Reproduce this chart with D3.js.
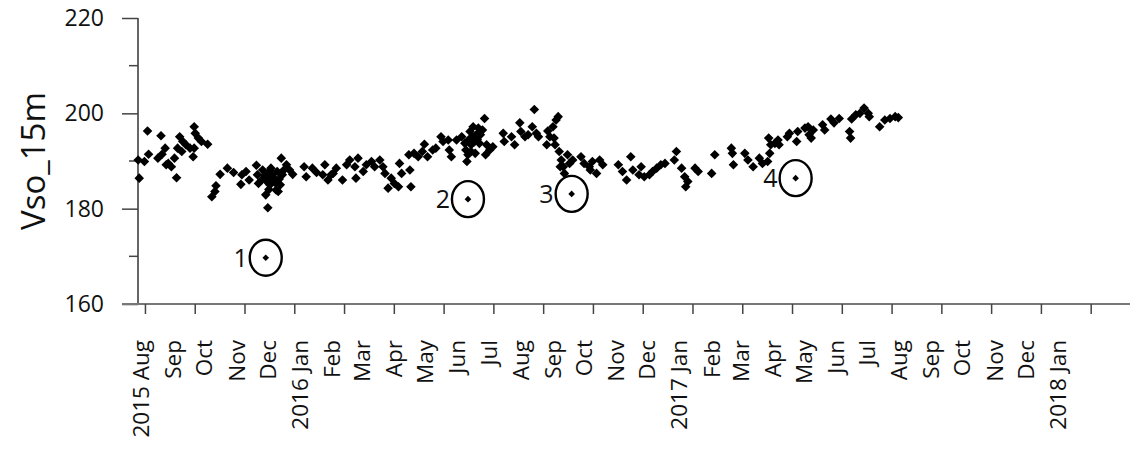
<!DOCTYPE html>
<html>
<head>
<meta charset="utf-8">
<script src="https://cdn.jsdelivr.net/npm/d3@7"></script>
<style>
  body { margin: 0; background: #fff; }
  text { font-family: "Open Sans", sans-serif; fill: #111; }
</style>
</head>
<body>
<div id="chart"></div>
<script>
const obs = [
  ["2015-07-29",190.2],["2015-07-30",186.4],["2015-08-04",189.9],["2015-08-07",196.3],["2015-08-08",191.4],
  ["2015-08-20",195.3],["2015-08-17",190.6],["2015-08-24",192.7],["2015-08-21",191.4],["2015-08-27",189.5],
  ["2015-08-25",189.2],["2015-08-30",188.8],["2015-09-04",186.5],["2015-09-02",190.6],["2015-09-05",192.7],
  ["2015-09-07",195.1],["2015-09-10",194.1],["2015-09-09",192.0],["2015-09-13",193.4],["2015-09-21",197.2],
  ["2015-09-22",195.8],["2015-09-25",194.8],["2015-09-20",190.9],["2015-09-21",192.7],["2015-09-28",194.1],
  ["2015-10-04",193.5],["2015-09-17",192.7],["2015-10-08",182.5],["2015-10-11",183.6],["2015-10-12",184.8],
  ["2015-10-16",187.2],["2015-10-23",188.5],["2015-10-29",187.6],["2015-11-05",185.1],["2015-11-06",187.1],
  ["2015-11-10",187.8],["2015-11-13",186.0],["2015-11-20",189.1],["2015-11-21",187.1],["2015-11-22",185.3],
  ["2015-11-26",188.1],["2015-11-29",182.9],["2015-12-01",180.2],["2015-12-02",186.7],["2015-12-03",185.0],
  ["2015-12-04",188.5],["2015-12-07",186.4],["2015-12-09",183.9],["2015-12-11",183.6],["2015-12-06",187.4],
  ["2015-12-14",190.6],["2015-12-15",187.1],["2015-12-19",189.2],["2015-12-22",188.1],["2015-12-25",187.2],
  ["2015-12-13",185.0],["2015-11-25",186.0],["2015-11-30",185.7],["2015-12-02",184.0],["2015-12-05",186.0],
  ["2015-12-08",185.5],["2015-12-10",187.8],["2015-12-12",186.2],["2015-11-28",187.0],["2015-12-16",188.0],
  ["2015-12-03",187.8],
  ["2016-01-05",188.8],["2016-01-07",186.7],["2016-01-13",188.5],["2016-01-17",187.6],["2016-01-25",189.2],
  ["2016-01-23",187.1],["2016-01-28",186.0],["2016-01-31",187.1],["2016-02-02",187.4],["2016-02-05",188.5],
  ["2016-02-11",186.0],["2016-02-15",189.2],["2016-02-18",190.2],["2016-02-23",188.8],["2016-02-26",190.6],
  ["2016-02-24",186.4],["2016-03-02",187.8],["2016-03-05",189.2],["2016-03-10",189.9],["2016-03-13",188.8],
  ["2016-03-18",190.2],["2016-03-21",188.8],["2016-03-23",187.4],["2016-03-26",184.3],["2016-03-29",186.4],
  ["2016-04-01",185.3],["2016-04-06",189.5],["2016-04-05",184.6],["2016-04-08",187.4],["2016-04-16",188.1],
  ["2016-04-17",184.6],["2016-04-15",191.3],["2016-04-20",191.6],["2016-04-24",190.9],["2016-04-30",193.5],
  ["2016-04-28",192.0],["2016-05-03",190.9],["2016-05-08",192.3],["2016-05-11",192.7],["2016-05-16",195.1],
  ["2016-05-18",194.1],["2016-05-23",194.4],["2016-05-24",192.3],["2016-05-26",190.9],["2016-05-31",194.4],
  ["2016-06-05",195.1],["2016-06-08",193.7],["2016-06-09",192.3],["2016-06-10",189.9],["2016-06-11",191.3],
  ["2016-06-13",196.2],["2016-06-16",197.2],["2016-06-19",195.5],["2016-06-21",196.9],["2016-06-22",193.7],
  ["2016-06-18",191.6],["2016-06-14",193.4],["2016-06-27",198.9],["2016-06-25",196.5],["2016-06-29",193.4],
  ["2016-06-28",191.3],["2016-06-12",194.5],["2016-06-15",195.0],["2016-06-17",194.0],["2016-06-20",194.5],
  ["2016-06-14",192.0],["2016-06-23",195.5],
  ["2016-07-05",193.0],["2016-07-02",192.3],["2016-07-15",195.8],["2016-07-16",194.1],["2016-07-23",195.1],
  ["2016-07-26",193.4],["2016-07-31",198.0],["2016-08-05",195.1],["2016-08-01",196.2],["2016-08-14",200.8],
  ["2016-08-12",197.2],["2016-08-08",195.5],["2016-08-16",195.8],["2016-08-18",195.1],["2016-08-27",196.3],
  ["2016-08-29",195.1],["2016-08-26",193.4],["2016-09-04",198.6],["2016-09-06",199.3],["2016-09-01",197.2],
  ["2016-09-02",194.8],["2016-09-03",193.4],["2016-09-07",192.0],["2016-09-09",190.2],["2016-09-11",188.8],
  ["2016-09-12",187.4],["2016-09-08",188.8],["2016-09-15",191.3],["2016-09-17",189.5],["2016-09-20",190.2],
  ["2016-09-28",190.9],["2016-10-01",189.5],["2016-10-06",188.8],["2016-10-09",189.9],["2016-10-13",187.4],
  ["2016-10-16",190.2],["2016-10-19",189.2],["2016-10-07",188.1],["2016-11-03",189.2],["2016-11-07",187.8],
  ["2016-11-11",186.0],["2016-11-15",190.9],["2016-11-17",188.1],["2016-11-23",187.1],["2016-11-25",188.8],
  ["2016-11-28",186.7],["2016-12-03",187.1],["2016-12-06",187.8],["2016-12-10",188.5],["2016-12-14",189.2],
  ["2016-12-18",189.5],["2016-12-29",192.0],["2016-12-27",190.2],
  ["2017-01-03",188.5],["2017-01-06",186.7],["2017-01-07",184.6],["2017-01-09",185.7],["2017-01-16",188.5],
  ["2017-01-19",187.8],["2017-02-01",187.4],["2017-02-04",191.3],["2017-02-20",192.7],["2017-02-21",191.6],
  ["2017-02-22",189.2],["2017-03-05",191.6],["2017-03-08",190.2],["2017-03-13",188.8],["2017-03-19",190.6],
  ["2017-03-22",189.5],["2017-03-27",189.9],["2017-03-29",191.6],["2017-03-30",193.4],["2017-03-28",194.8],
  ["2017-04-03",193.7],["2017-04-07",193.4],["2017-04-06",194.4],["2017-04-15",195.1],["2017-04-17",195.8],
  ["2017-04-24",194.1],["2017-04-25",196.2],["2017-05-02",196.9],["2017-05-05",197.2],["2017-05-06",195.5],
  ["2017-05-10",196.5],["2017-05-08",194.8],["2017-05-19",197.6],["2017-05-21",196.5],["2017-05-27",198.8],
  ["2017-05-30",198.0],["2017-06-04",198.9],["2017-06-16",198.8],["2017-06-14",196.2],["2017-06-15",194.8],
  ["2017-06-20",199.7],["2017-06-24",200.0],["2017-06-28",201.1],["2017-07-02",200.0],["2017-07-03",199.3],
  ["2017-07-13",197.2],["2017-07-18",198.6],["2017-07-23",198.9],["2017-07-28",199.3],["2017-07-31",199.1]
];

// the four circled outliers
const outlierDates = ["2015-11-29", "2016-06-11", "2016-09-19", "2017-04-23"];
const outlierValues = [169.7, 182.0, 183.1, 186.4];
const outlierLabels = ["1", "2", "3", "4"];

const yTicks = [160, 180, 200, 220];
const yMinorTicks = [170, 190, 210];
const firstLabelMonth = "2015-08-01";
const lastLabelMonth = "2018-01-01";
const firstTick = "2015-08-05";
const tickStepDays = 48;
const tickCount = 20;

const svgWidth = 1130;
const svgHeight = 453;
const parse = d3.timeParse("%Y-%m-%d");

const svg = d3.select("#chart")
  .append("svg")
  .attr("width", svgWidth)
  .attr("height", svgHeight);

const x = d3.scaleTime()
  .domain([parse(firstLabelMonth), parse(lastLabelMonth)])
  .range([141.3, 1058]);

const y = d3.scaleLinear()
  .domain([160, 220])
  .range([304, 18]);

const axisX = 138;

// y axis
const yAxis = svg.append("g")
  .attr("transform", `translate(${axisX},0)`)
  .call(d3.axisLeft(y).tickValues(yTicks).tickSize(16).tickPadding(18).tickFormat(d3.format("d")));
yAxis.select(".domain").attr("stroke", "#333").attr("stroke-width", 1.5).attr("d", `M0,${y(220)}V${y(160)}`);
yAxis.selectAll(".tick line").attr("stroke", "#444").attr("stroke-width", 1.5);
yAxis.selectAll(".tick text").style("font-size", "23px").attr("fill", "#111");

svg.append("g")
  .selectAll("line")
  .data(yMinorTicks)
  .join("line")
  .attr("x1", axisX - 9).attr("x2", axisX)
  .attr("y1", d => y(d)).attr("y2", d => y(d))
  .attr("stroke", "#444").attr("stroke-width", 1.5);

// x axis line runs to the right edge
svg.append("line")
  .attr("x1", axisX - 16).attr("x2", svgWidth)
  .attr("y1", y(160)).attr("y2", y(160))
  .attr("stroke", "#777").attr("stroke-width", 2);

const tickDates = d3.range(tickCount).map(i => d3.timeDay.offset(parse(firstTick), i * tickStepDays));
svg.append("g")
  .selectAll("line")
  .data(tickDates)
  .join("line")
  .attr("x1", d => x(d)).attr("x2", d => x(d))
  .attr("y1", y(160)).attr("y2", y(160) + 10)
  .attr("stroke", "#444").attr("stroke-width", 1.5);

// month labels
const months = d3.timeMonth.range(parse(firstLabelMonth), d3.timeDay.offset(parse(lastLabelMonth), 1));
const fmtMonth = d3.timeFormat("%b");
const fmtYear = d3.timeFormat("%Y %b");
svg.append("g")
  .selectAll("text")
  .data(months)
  .join("text")
  .attr("transform", d => `translate(${x(d)},340) rotate(-90)`)
  .attr("text-anchor", "end")
  .attr("dy", "0.35em")
  .style("font-size", "22.5px")
  .text((d, i) => (i === 0 || d.getMonth() === 0) ? fmtYear(d) : fmtMonth(d));

// y axis title
svg.append("text")
  .attr("transform", `translate(33,161) rotate(-90)`)
  .attr("text-anchor", "middle")
  .attr("dy", "0.35em")
  .style("font-size", "33px")
  .text("Vso_15m");

// points
const diamond = d3.symbol(d3.symbolSquare, 46);
svg.append("g")
  .selectAll("path")
  .data(obs)
  .join("path")
  .attr("d", diamond)
  .attr("transform", d => `translate(${x(parse(d[0]))},${y(d[1])}) rotate(45)`)
  .attr("fill", "#000");

// circled outliers
const outliers = outlierDates.map((d, i) => ({ date: parse(d), value: outlierValues[i], label: outlierLabels[i] }));
const og = svg.append("g")
  .selectAll("g")
  .data(outliers)
  .join("g")
  .attr("transform", d => `translate(${x(d.date)},${y(d.value)})`);

og.append("ellipse")
  .attr("rx", 16).attr("ry", 18)
  .attr("fill", "none")
  .attr("stroke", "#000")
  .attr("stroke-width", 2.4);

og.append("path")
  .attr("d", d3.symbol(d3.symbolSquare, 22))
  .attr("transform", "rotate(45)")
  .attr("fill", "#000");

og.append("text")
  .attr("x", -18)
  .attr("y", 9)
  .attr("text-anchor", "end")
  .style("font-size", "25px")
  .text(d => d.label);
</script>
</body>
</html>
